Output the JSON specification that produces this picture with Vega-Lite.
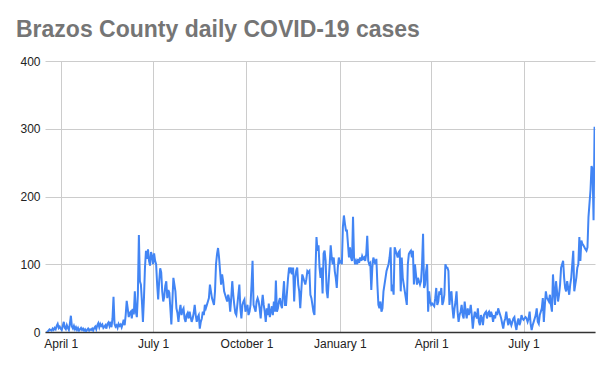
{
"$schema": "https://vega.github.io/schema/vega-lite/v6.json",
"autosize": "none",
"width": 550,
"height": 271,
"padding": {"left": 45, "top": 61, "right": 18, "bottom": 39},
"background": "white",
"title": {"text": "Brazos County daily COVID-19 cases", "anchor": "start", "frame": "group", "dx": -29, "dy": 21, "offset": 16, "baseline": "alphabetic", "font": "Liberation Sans", "fontSize": 23, "fontWeight": "bold", "color": "#757575"},
"config": {"view": {"stroke": null}, "axis": {"labelFont": "Liberation Sans", "labelFontSize": 12, "labelColor": "#222222", "gridColor": "#cccccc", "gridWidth": 1, "ticks": false, "title": null}},
"data": {"values": [
{"date":"2020-03-18","cases":1},{"date":"2020-03-19","cases":0},{"date":"2020-03-20","cases":2},{"date":"2020-03-21","cases":4},{"date":"2020-03-22","cases":3},{"date":"2020-03-23","cases":2},{"date":"2020-03-24","cases":5},{"date":"2020-03-25","cases":3},{"date":"2020-03-26","cases":6},{"date":"2020-03-27","cases":4},{"date":"2020-03-28","cases":9},{"date":"2020-03-29","cases":12},{"date":"2020-03-30","cases":6},{"date":"2020-03-31","cases":8},
{"date":"2020-04-01","cases":5},{"date":"2020-04-02","cases":3},{"date":"2020-04-03","cases":9},{"date":"2020-04-04","cases":15},{"date":"2020-04-05","cases":6},{"date":"2020-04-06","cases":4},{"date":"2020-04-07","cases":10},{"date":"2020-04-08","cases":6},{"date":"2020-04-09","cases":3},{"date":"2020-04-10","cases":12},{"date":"2020-04-11","cases":24},{"date":"2020-04-12","cases":8},{"date":"2020-04-13","cases":5},{"date":"2020-04-14","cases":9},{"date":"2020-04-15","cases":4},{"date":"2020-04-16","cases":7},{"date":"2020-04-17","cases":3},{"date":"2020-04-18","cases":6},{"date":"2020-04-19","cases":2},{"date":"2020-04-20","cases":4},{"date":"2020-04-21","cases":6},{"date":"2020-04-22","cases":3},{"date":"2020-04-23","cases":5},{"date":"2020-04-24","cases":2},{"date":"2020-04-25","cases":4},{"date":"2020-04-26","cases":1},{"date":"2020-04-27","cases":3},{"date":"2020-04-28","cases":5},{"date":"2020-04-29","cases":2},{"date":"2020-04-30","cases":4},
{"date":"2020-05-01","cases":3},{"date":"2020-05-02","cases":5},{"date":"2020-05-03","cases":2},{"date":"2020-05-04","cases":6},{"date":"2020-05-05","cases":8},{"date":"2020-05-06","cases":4},{"date":"2020-05-07","cases":10},{"date":"2020-05-08","cases":13},{"date":"2020-05-09","cases":7},{"date":"2020-05-10","cases":12},{"date":"2020-05-11","cases":9},{"date":"2020-05-12","cases":11},{"date":"2020-05-13","cases":6},{"date":"2020-05-14","cases":8},{"date":"2020-05-15","cases":10},{"date":"2020-05-16","cases":5},{"date":"2020-05-17","cases":12},{"date":"2020-05-18","cases":14},{"date":"2020-05-19","cases":9},{"date":"2020-05-20","cases":15},{"date":"2020-05-21","cases":7},{"date":"2020-05-22","cases":20},{"date":"2020-05-23","cases":52},{"date":"2020-05-24","cases":12},{"date":"2020-05-25","cases":8},{"date":"2020-05-26","cases":10},{"date":"2020-05-27","cases":6},{"date":"2020-05-28","cases":12},{"date":"2020-05-29","cases":9},{"date":"2020-05-30","cases":11},{"date":"2020-05-31","cases":7},
{"date":"2020-06-01","cases":12},{"date":"2020-06-02","cases":18},{"date":"2020-06-03","cases":10},{"date":"2020-06-04","cases":25},{"date":"2020-06-05","cases":46},{"date":"2020-06-06","cases":35},{"date":"2020-06-07","cases":22},{"date":"2020-06-08","cases":28},{"date":"2020-06-09","cases":30},{"date":"2020-06-10","cases":20},{"date":"2020-06-11","cases":34},{"date":"2020-06-12","cases":26},{"date":"2020-06-13","cases":60},{"date":"2020-06-14","cases":30},{"date":"2020-06-15","cases":22},{"date":"2020-06-16","cases":55},{"date":"2020-06-17","cases":143},{"date":"2020-06-18","cases":75},{"date":"2020-06-19","cases":70},{"date":"2020-06-20","cases":45},{"date":"2020-06-21","cases":15},{"date":"2020-06-22","cases":50},{"date":"2020-06-23","cases":95},{"date":"2020-06-24","cases":120},{"date":"2020-06-25","cases":108},{"date":"2020-06-26","cases":122},{"date":"2020-06-27","cases":105},{"date":"2020-06-28","cases":98},{"date":"2020-06-29","cases":118},{"date":"2020-06-30","cases":112},
{"date":"2020-07-01","cases":100},{"date":"2020-07-02","cases":116},{"date":"2020-07-03","cases":105},{"date":"2020-07-04","cases":100},{"date":"2020-07-05","cases":70},{"date":"2020-07-06","cases":48},{"date":"2020-07-07","cases":75},{"date":"2020-07-08","cases":94},{"date":"2020-07-09","cases":88},{"date":"2020-07-10","cases":60},{"date":"2020-07-11","cases":45},{"date":"2020-07-12","cases":52},{"date":"2020-07-13","cases":68},{"date":"2020-07-14","cases":75},{"date":"2020-07-15","cases":50},{"date":"2020-07-16","cases":62},{"date":"2020-07-17","cases":58},{"date":"2020-07-18","cases":35},{"date":"2020-07-19","cases":11},{"date":"2020-07-20","cases":45},{"date":"2020-07-21","cases":80},{"date":"2020-07-22","cases":70},{"date":"2020-07-23","cases":60},{"date":"2020-07-24","cases":35},{"date":"2020-07-25","cases":28},{"date":"2020-07-26","cases":15},{"date":"2020-07-27","cases":30},{"date":"2020-07-28","cases":40},{"date":"2020-07-29","cases":25},{"date":"2020-07-30","cases":32},{"date":"2020-07-31","cases":35},
{"date":"2020-08-01","cases":20},{"date":"2020-08-02","cases":15},{"date":"2020-08-03","cases":25},{"date":"2020-08-04","cases":28},{"date":"2020-08-05","cases":20},{"date":"2020-08-06","cases":30},{"date":"2020-08-07","cases":22},{"date":"2020-08-08","cases":15},{"date":"2020-08-09","cases":20},{"date":"2020-08-10","cases":28},{"date":"2020-08-11","cases":40},{"date":"2020-08-12","cases":25},{"date":"2020-08-13","cases":15},{"date":"2020-08-14","cases":22},{"date":"2020-08-15","cases":25},{"date":"2020-08-16","cases":5},{"date":"2020-08-17","cases":15},{"date":"2020-08-18","cases":20},{"date":"2020-08-19","cases":30},{"date":"2020-08-20","cases":25},{"date":"2020-08-21","cases":40},{"date":"2020-08-22","cases":35},{"date":"2020-08-23","cases":40},{"date":"2020-08-24","cases":45},{"date":"2020-08-25","cases":50},{"date":"2020-08-26","cases":70},{"date":"2020-08-27","cases":60},{"date":"2020-08-28","cases":50},{"date":"2020-08-29","cases":45},{"date":"2020-08-30","cases":40},{"date":"2020-08-31","cases":60},
{"date":"2020-09-01","cases":100},{"date":"2020-09-02","cases":115},{"date":"2020-09-03","cases":124},{"date":"2020-09-04","cases":110},{"date":"2020-09-05","cases":90},{"date":"2020-09-06","cases":70},{"date":"2020-09-07","cases":85},{"date":"2020-09-08","cases":75},{"date":"2020-09-09","cases":60},{"date":"2020-09-10","cases":55},{"date":"2020-09-11","cases":50},{"date":"2020-09-12","cases":45},{"date":"2020-09-13","cases":55},{"date":"2020-09-14","cases":48},{"date":"2020-09-15","cases":30},{"date":"2020-09-16","cases":50},{"date":"2020-09-17","cases":75},{"date":"2020-09-18","cases":55},{"date":"2020-09-19","cases":40},{"date":"2020-09-20","cases":28},{"date":"2020-09-21","cases":25},{"date":"2020-09-22","cases":40},{"date":"2020-09-23","cases":55},{"date":"2020-09-24","cases":70},{"date":"2020-09-25","cases":35},{"date":"2020-09-26","cases":20},{"date":"2020-09-27","cases":40},{"date":"2020-09-28","cases":45},{"date":"2020-09-29","cases":48},{"date":"2020-09-30","cases":30},
{"date":"2020-10-01","cases":35},{"date":"2020-10-02","cases":40},{"date":"2020-10-03","cases":25},{"date":"2020-10-04","cases":30},{"date":"2020-10-05","cases":40},{"date":"2020-10-06","cases":70},{"date":"2020-10-07","cases":105},{"date":"2020-10-08","cases":40},{"date":"2020-10-09","cases":35},{"date":"2020-10-10","cases":30},{"date":"2020-10-11","cases":45},{"date":"2020-10-12","cases":50},{"date":"2020-10-13","cases":45},{"date":"2020-10-14","cases":35},{"date":"2020-10-15","cases":20},{"date":"2020-10-16","cases":40},{"date":"2020-10-17","cases":55},{"date":"2020-10-18","cases":40},{"date":"2020-10-19","cases":30},{"date":"2020-10-20","cases":15},{"date":"2020-10-21","cases":35},{"date":"2020-10-22","cases":25},{"date":"2020-10-23","cases":42},{"date":"2020-10-24","cases":22},{"date":"2020-10-25","cases":30},{"date":"2020-10-26","cases":38},{"date":"2020-10-27","cases":25},{"date":"2020-10-28","cases":45},{"date":"2020-10-29","cases":30},{"date":"2020-10-30","cases":76},{"date":"2020-10-31","cases":30},
{"date":"2020-11-01","cases":35},{"date":"2020-11-02","cases":45},{"date":"2020-11-03","cases":50},{"date":"2020-11-04","cases":40},{"date":"2020-11-05","cases":35},{"date":"2020-11-06","cases":55},{"date":"2020-11-07","cases":75},{"date":"2020-11-08","cases":40},{"date":"2020-11-09","cases":40},{"date":"2020-11-10","cases":60},{"date":"2020-11-11","cases":80},{"date":"2020-11-12","cases":95},{"date":"2020-11-13","cases":90},{"date":"2020-11-14","cases":95},{"date":"2020-11-15","cases":85},{"date":"2020-11-16","cases":95},{"date":"2020-11-17","cases":45},{"date":"2020-11-18","cases":80},{"date":"2020-11-19","cases":90},{"date":"2020-11-20","cases":95},{"date":"2020-11-21","cases":70},{"date":"2020-11-22","cases":60},{"date":"2020-11-23","cases":35},{"date":"2020-11-24","cases":60},{"date":"2020-11-25","cases":85},{"date":"2020-11-26","cases":80},{"date":"2020-11-27","cases":75},{"date":"2020-11-28","cases":70},{"date":"2020-11-29","cases":78},{"date":"2020-11-30","cases":90},
{"date":"2020-12-01","cases":88},{"date":"2020-12-02","cases":90},{"date":"2020-12-03","cases":55},{"date":"2020-12-04","cases":50},{"date":"2020-12-05","cases":40},{"date":"2020-12-06","cases":30},{"date":"2020-12-07","cases":25},{"date":"2020-12-08","cases":90},{"date":"2020-12-09","cases":140},{"date":"2020-12-10","cases":120},{"date":"2020-12-11","cases":128},{"date":"2020-12-12","cases":95},{"date":"2020-12-13","cases":80},{"date":"2020-12-14","cases":95},{"date":"2020-12-15","cases":57},{"date":"2020-12-16","cases":116},{"date":"2020-12-17","cases":120},{"date":"2020-12-18","cases":105},{"date":"2020-12-19","cases":61},{"date":"2020-12-20","cases":50},{"date":"2020-12-21","cases":75},{"date":"2020-12-22","cases":100},{"date":"2020-12-23","cases":128},{"date":"2020-12-24","cases":110},{"date":"2020-12-25","cases":100},{"date":"2020-12-26","cases":110},{"date":"2020-12-27","cases":90},{"date":"2020-12-28","cases":80},{"date":"2020-12-29","cases":65},{"date":"2020-12-30","cases":95},{"date":"2020-12-31","cases":110},
{"date":"2021-01-01","cases":103},{"date":"2021-01-02","cases":105},{"date":"2021-01-03","cases":100},{"date":"2021-01-04","cases":155},{"date":"2021-01-05","cases":172},{"date":"2021-01-06","cases":160},{"date":"2021-01-07","cases":150},{"date":"2021-01-08","cases":150},{"date":"2021-01-09","cases":130},{"date":"2021-01-10","cases":110},{"date":"2021-01-11","cases":125},{"date":"2021-01-12","cases":110},{"date":"2021-01-13","cases":105},{"date":"2021-01-14","cases":170},{"date":"2021-01-15","cases":110},{"date":"2021-01-16","cases":100},{"date":"2021-01-17","cases":105},{"date":"2021-01-18","cases":100},{"date":"2021-01-19","cases":108},{"date":"2021-01-20","cases":102},{"date":"2021-01-21","cases":110},{"date":"2021-01-22","cases":105},{"date":"2021-01-23","cases":112},{"date":"2021-01-24","cases":108},{"date":"2021-01-25","cases":110},{"date":"2021-01-26","cases":105},{"date":"2021-01-27","cases":115},{"date":"2021-01-28","cases":142},{"date":"2021-01-29","cases":105},{"date":"2021-01-30","cases":100},{"date":"2021-01-31","cases":102},
{"date":"2021-02-01","cases":62},{"date":"2021-02-02","cases":95},{"date":"2021-02-03","cases":110},{"date":"2021-02-04","cases":105},{"date":"2021-02-05","cases":100},{"date":"2021-02-06","cases":108},{"date":"2021-02-07","cases":70},{"date":"2021-02-08","cases":40},{"date":"2021-02-09","cases":35},{"date":"2021-02-10","cases":45},{"date":"2021-02-11","cases":30},{"date":"2021-02-12","cases":35},{"date":"2021-02-13","cases":60},{"date":"2021-02-14","cases":70},{"date":"2021-02-15","cases":80},{"date":"2021-02-16","cases":90},{"date":"2021-02-17","cases":95},{"date":"2021-02-18","cases":100},{"date":"2021-02-19","cases":110},{"date":"2021-02-20","cases":125},{"date":"2021-02-21","cases":60},{"date":"2021-02-22","cases":70},{"date":"2021-02-23","cases":55},{"date":"2021-02-24","cases":125},{"date":"2021-02-25","cases":120},{"date":"2021-02-26","cases":115},{"date":"2021-02-27","cases":110},{"date":"2021-02-28","cases":118},
{"date":"2021-03-01","cases":120},{"date":"2021-03-02","cases":60},{"date":"2021-03-03","cases":110},{"date":"2021-03-04","cases":80},{"date":"2021-03-05","cases":70},{"date":"2021-03-06","cases":60},{"date":"2021-03-07","cases":50},{"date":"2021-03-08","cases":40},{"date":"2021-03-09","cases":100},{"date":"2021-03-10","cases":115},{"date":"2021-03-11","cases":118},{"date":"2021-03-12","cases":120},{"date":"2021-03-13","cases":110},{"date":"2021-03-14","cases":120},{"date":"2021-03-15","cases":70},{"date":"2021-03-16","cases":100},{"date":"2021-03-17","cases":85},{"date":"2021-03-18","cases":70},{"date":"2021-03-19","cases":80},{"date":"2021-03-20","cases":75},{"date":"2021-03-21","cases":70},{"date":"2021-03-22","cases":75},{"date":"2021-03-23","cases":100},{"date":"2021-03-24","cases":145},{"date":"2021-03-25","cases":65},{"date":"2021-03-26","cases":70},{"date":"2021-03-27","cases":90},{"date":"2021-03-28","cases":100},{"date":"2021-03-29","cases":30},{"date":"2021-03-30","cases":60},{"date":"2021-03-31","cases":45},
{"date":"2021-04-01","cases":40},{"date":"2021-04-02","cases":42},{"date":"2021-04-03","cases":40},{"date":"2021-04-04","cases":38},{"date":"2021-04-05","cases":50},{"date":"2021-04-06","cases":65},{"date":"2021-04-07","cases":40},{"date":"2021-04-08","cases":45},{"date":"2021-04-09","cases":60},{"date":"2021-04-10","cases":55},{"date":"2021-04-11","cases":65},{"date":"2021-04-12","cases":40},{"date":"2021-04-13","cases":45},{"date":"2021-04-14","cases":55},{"date":"2021-04-15","cases":100},{"date":"2021-04-16","cases":95},{"date":"2021-04-17","cases":95},{"date":"2021-04-18","cases":90},{"date":"2021-04-19","cases":40},{"date":"2021-04-20","cases":55},{"date":"2021-04-21","cases":60},{"date":"2021-04-22","cases":35},{"date":"2021-04-23","cases":20},{"date":"2021-04-24","cases":35},{"date":"2021-04-25","cases":45},{"date":"2021-04-26","cases":60},{"date":"2021-04-27","cases":30},{"date":"2021-04-28","cases":15},{"date":"2021-04-29","cases":25},{"date":"2021-04-30","cases":30},
{"date":"2021-05-01","cases":40},{"date":"2021-05-02","cases":25},{"date":"2021-05-03","cases":20},{"date":"2021-05-04","cases":45},{"date":"2021-05-05","cases":30},{"date":"2021-05-06","cases":20},{"date":"2021-05-07","cases":35},{"date":"2021-05-08","cases":25},{"date":"2021-05-09","cases":30},{"date":"2021-05-10","cases":40},{"date":"2021-05-11","cases":25},{"date":"2021-05-12","cases":5},{"date":"2021-05-13","cases":20},{"date":"2021-05-14","cases":30},{"date":"2021-05-15","cases":25},{"date":"2021-05-16","cases":20},{"date":"2021-05-17","cases":35},{"date":"2021-05-18","cases":15},{"date":"2021-05-19","cases":10},{"date":"2021-05-20","cases":25},{"date":"2021-05-21","cases":20},{"date":"2021-05-22","cases":10},{"date":"2021-05-23","cases":25},{"date":"2021-05-24","cases":28},{"date":"2021-05-25","cases":30},{"date":"2021-05-26","cases":20},{"date":"2021-05-27","cases":28},{"date":"2021-05-28","cases":30},{"date":"2021-05-29","cases":22},{"date":"2021-05-30","cases":30},{"date":"2021-05-31","cases":25},
{"date":"2021-06-01","cases":15},{"date":"2021-06-02","cases":25},{"date":"2021-06-03","cases":20},{"date":"2021-06-04","cases":30},{"date":"2021-06-05","cases":25},{"date":"2021-06-06","cases":35},{"date":"2021-06-07","cases":30},{"date":"2021-06-08","cases":25},{"date":"2021-06-09","cases":20},{"date":"2021-06-10","cases":12},{"date":"2021-06-11","cases":5},{"date":"2021-06-12","cases":15},{"date":"2021-06-13","cases":20},{"date":"2021-06-14","cases":30},{"date":"2021-06-15","cases":18},{"date":"2021-06-16","cases":10},{"date":"2021-06-17","cases":20},{"date":"2021-06-18","cases":15},{"date":"2021-06-19","cases":10},{"date":"2021-06-20","cases":15},{"date":"2021-06-21","cases":20},{"date":"2021-06-22","cases":22},{"date":"2021-06-23","cases":10},{"date":"2021-06-24","cases":3},{"date":"2021-06-25","cases":15},{"date":"2021-06-26","cases":20},{"date":"2021-06-27","cases":10},{"date":"2021-06-28","cases":15},{"date":"2021-06-29","cases":25},{"date":"2021-06-30","cases":20},
{"date":"2021-07-01","cases":18},{"date":"2021-07-02","cases":20},{"date":"2021-07-03","cases":22},{"date":"2021-07-04","cases":20},{"date":"2021-07-05","cases":15},{"date":"2021-07-06","cases":20},{"date":"2021-07-07","cases":30},{"date":"2021-07-08","cases":12},{"date":"2021-07-09","cases":3},{"date":"2021-07-10","cases":10},{"date":"2021-07-11","cases":15},{"date":"2021-07-12","cases":20},{"date":"2021-07-13","cases":25},{"date":"2021-07-14","cases":35},{"date":"2021-07-15","cases":15},{"date":"2021-07-16","cases":12},{"date":"2021-07-17","cases":25},{"date":"2021-07-18","cases":30},{"date":"2021-07-19","cases":35},{"date":"2021-07-20","cases":50},{"date":"2021-07-21","cases":15},{"date":"2021-07-22","cases":40},{"date":"2021-07-23","cases":60},{"date":"2021-07-24","cases":50},{"date":"2021-07-25","cases":48},{"date":"2021-07-26","cases":45},{"date":"2021-07-27","cases":55},{"date":"2021-07-28","cases":40},{"date":"2021-07-29","cases":30},{"date":"2021-07-30","cases":85},{"date":"2021-07-31","cases":60},
{"date":"2021-08-01","cases":40},{"date":"2021-08-02","cases":75},{"date":"2021-08-03","cases":60},{"date":"2021-08-04","cases":45},{"date":"2021-08-05","cases":55},{"date":"2021-08-06","cases":70},{"date":"2021-08-07","cases":95},{"date":"2021-08-08","cases":100},{"date":"2021-08-09","cases":105},{"date":"2021-08-10","cases":80},{"date":"2021-08-11","cases":65},{"date":"2021-08-12","cases":60},{"date":"2021-08-13","cases":75},{"date":"2021-08-14","cases":65},{"date":"2021-08-15","cases":55},{"date":"2021-08-16","cases":70},{"date":"2021-08-17","cases":80},{"date":"2021-08-18","cases":100},{"date":"2021-08-19","cases":120},{"date":"2021-08-20","cases":60},{"date":"2021-08-21","cases":70},{"date":"2021-08-22","cases":80},{"date":"2021-08-23","cases":95},{"date":"2021-08-24","cases":100},{"date":"2021-08-25","cases":140},{"date":"2021-08-26","cases":105},{"date":"2021-08-27","cases":135},{"date":"2021-08-28","cases":130},{"date":"2021-08-29","cases":128},{"date":"2021-08-30","cases":125},{"date":"2021-08-31","cases":122},
{"date":"2021-09-01","cases":120},{"date":"2021-09-02","cases":125},{"date":"2021-09-03","cases":170},{"date":"2021-09-04","cases":190},{"date":"2021-09-05","cases":210},{"date":"2021-09-06","cases":245},{"date":"2021-09-07","cases":240},{"date":"2021-09-08","cases":165},{"date":"2021-09-09","cases":303}
]},
"mark": {"type": "line", "color": "#4285F4", "strokeWidth": 2, "clip": true},
"encoding": {
"x": {"field": "date", "type": "temporal",
"scale": {"type": "utc", "domain": [{"year": 2020, "month": 3, "date": 16, "hours": 12, "utc": true}, {"year": 2021, "month": 9, "date": 9, "hours": 10, "utc": true}]},
"axis": {"labelExpr": "utcFormat(datum.value, '%B %-d')", "labelPadding": 6, "labelBaseline": "top", "domain": true, "domainColor": "#333333", "domainWidth": 1.5, "grid": true,
"values": [{"year": 2020, "month": 4, "date": 1, "utc": true}, {"year": 2020, "month": 7, "date": 1, "utc": true}, {"year": 2020, "month": 10, "date": 1, "utc": true}, {"year": 2021, "month": 1, "date": 1, "utc": true}, {"year": 2021, "month": 4, "date": 1, "utc": true}, {"year": 2021, "month": 7, "date": 1, "utc": true}],
"labelFlush": false, "labelOverlap": false}},
"y": {"field": "cases", "type": "quantitative",
"scale": {"domain": [0, 400], "nice": false},
"axis": {"values": [0, 100, 200, 300, 400], "domain": false, "labelPadding": 5, "grid": true}}
}
}
